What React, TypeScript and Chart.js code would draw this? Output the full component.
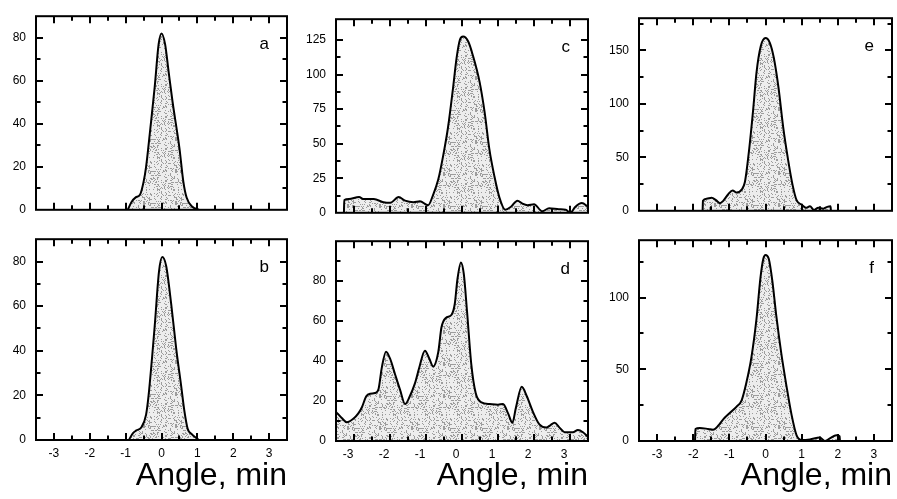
import React, { useEffect, useRef } from 'react';
import { Chart, registerables } from 'chart.js';
Chart.register(...registerables);

// ---- data (x = angle, min ; y = counts) ----
const aX = [-0.94, -0.84, -0.72, -0.6, -0.5, -0.43, -0.31, -0.19, -0.08, 0.0, 0.1, 0.2, 0.31, 0.5, 0.61, 0.7, 0.86, 1.05];
const aY = [0, 3.5, 5.8, 7, 13, 20, 38, 57, 77, 82, 77, 64, 50, 28.7, 13, 5.7, 1.4, 0];

const bX = [-0.91, -0.8, -0.7, -0.56, -0.43, -0.36, -0.19, -0.07, 0.02, 0.13, 0.27, 0.41, 0.55, 0.64, 0.73, 0.85, 0.96, 1.05];
const bY = [0, 3, 4.3, 5.7, 11.4, 20, 51, 75.5, 82, 78, 61, 41, 24, 12.8, 5, 2.5, 1, 0];

const cX = [-3.28, -3.27, -3.14, -2.86, -2.73, -2.45, -2.18, -1.99, -1.76, -1.58, -1.35, -1.17, -0.94, -0.8, -0.66, -0.52, -0.39, -0.25, -0.15, -0.06, 0.03, 0.17, 0.3, 0.49, 0.63, 0.76, 0.9, 1.04, 1.2, 1.36, 1.54, 1.68, 1.82, 2.0, 2.23, 2.42, 2.69, 2.88, 3.01, 3.15, 3.33, 3.5];
const cY = [0, 9.2, 9.9, 11.4, 9.9, 9.9, 7.7, 7.3, 11.4, 8.8, 7.7, 8.4, 5.5, 13.2, 24, 41.7, 61.5, 90, 112, 125, 127.4, 124, 114, 94.5, 72.5, 46, 26.4, 11, 2.2, 4.4, 8.8, 6.6, 5.5, 6.2, 1.1, 3.3, 2.6, 2.2, 0, 4.4, 7, 4.4];

const dX = [-3.5, -3.34, -3.2, -3.02, -2.88, -2.78, -2.66, -2.55, -2.42, -2.32, -2.23, -2.11, -2.0, -1.86, -1.72, -1.58, -1.45, -1.31, -1.19, -1.03, -0.91, -0.8, -0.66, -0.57, -0.45, -0.29, -0.2, -0.13, -0.03, 0.05, 0.14, 0.26, 0.38, 0.54, 0.77, 1.0, 1.14, 1.28, 1.4, 1.5, 1.66, 1.8, 1.97, 2.15, 2.34, 2.46, 2.57, 2.71, 2.85, 3.08, 3.22, 3.36, 3.5];
const dY = [14.6, 11.5, 9.4, 11.1, 13.8, 16.9, 22.4, 23.7, 24, 25.9, 36.5, 44.7, 41.3, 33.4, 25.6, 18.5, 22.4, 28.7, 36.5, 45.2, 41.3, 37.3, 44.4, 56.9, 61.6, 63.2, 68.7, 80.5, 89.4, 83.6, 64.8, 38.1, 24, 19.3, 18.5, 18.2, 18.5, 13.8, 9.1, 16.9, 27.1, 22.4, 14.6, 8.3, 6.7, 8, 9.1, 6.7, 4.4, 4.4, 5.5, 4.4, 2];

const eX = [-1.74, -1.73, -1.63, -1.49, -1.37, -1.26, -1.17, -1.03, -0.91, -0.8, -0.66, -0.57, -0.45, -0.34, -0.25, -0.13, 0.0, 0.12, 0.23, 0.36, 0.49, 0.63, 0.75, 0.86, 1.0, 1.12, 1.23, 1.34, 1.46, 1.6, 1.71, 1.8, 1.81];
const eY = [0, 9.3, 11.3, 12.2, 9.9, 7.1, 9.3, 15.6, 19, 17, 19.8, 26.9, 58, 95, 129, 154, 161.5, 157, 143, 115, 78, 46.7, 24, 9.9, 5.7, 2.8, 4.2, 0.8, 2.8, 2, 3.7, 4.2, 0];

const fX = [-1.95, -1.94, -1.82, -1.59, -1.45, -1.31, -1.17, -0.99, -0.8, -0.66, -0.53, -0.39, -0.25, -0.14, -0.06, 0.0, 0.09, 0.19, 0.3, 0.44, 0.58, 0.72, 0.86, 1.0, 1.23, 1.5, 1.64, 1.78, 1.96, 2.05, 2.06];
const fY = [0, 8.4, 9.1, 8.4, 7.8, 10.6, 15.1, 19.5, 24, 28.4, 40.6, 58.3, 85, 113.7, 127, 129.7, 127, 111.5, 87, 60.5, 38.4, 18.4, 4, 0.7, 1.1, 2.4, 0, 1.8, 4, 3.3, 0];

// ---- ticks ----
const xTicks = [-3, -2.5, -2, -1.5, -1, -0.5, 0, 0.5, 1, 1.5, 2, 2.5, 3];
const yTicks90 = [0, 10, 20, 30, 40, 50, 60, 70, 80];
const yTicks140c = [0, 12.5, 25, 37.5, 50, 62.5, 75, 87.5, 100, 112.5, 125];
const yTicks100 = [0, 10, 20, 30, 40, 50, 60, 70, 80, 90];
const yTicks180 = [0, 25, 50, 75, 100, 125, 150, 175];
const yTicks140f = [0, 25, 50, 75, 100, 125];

const xAxisTitle = 'Angle, min';
const FONT = '"Liberation Sans", Arial, Helvetica, sans-serif';

type PanelCfg = {
  letter: string; xs: number[]; ys: number[];
  L: number; T: number; R: number; B: number;
  yMax: number; yTicks: number[]; yLabelStep: number;
  bottom: boolean; xLabelOffset?: number;
};

const panels: PanelCfg[] = [
  { letter: 'a', xs: aX, ys: aY, L: 36, T: 5, R: 287, B: 217, yMax: 90, yTicks: yTicks90, yLabelStep: 20, bottom: false },
  { letter: 'b', xs: bX, ys: bY, L: 36, T: 228, R: 287, B: 440, yMax: 90, yTicks: yTicks90, yLabelStep: 20, bottom: true },
  { letter: 'c', xs: cX, ys: cY, L: 336, T: 8, R: 588, B: 220, yMax: 140, yTicks: yTicks140c, yLabelStep: 25, bottom: false },
  { letter: 'd', xs: dX, ys: dY, L: 336, T: 230, R: 588, B: 441, yMax: 100, yTicks: yTicks100, yLabelStep: 20, bottom: true, xLabelOffset: -6 },
  { letter: 'e', xs: eX, ys: eY, L: 639, T: 7, R: 892, B: 218, yMax: 180, yTicks: yTicks180, yLabelStep: 50, bottom: false },
  { letter: 'f', xs: fX, ys: fY, L: 639, T: 229, R: 892, B: 441, yMax: 140, yTicks: yTicks140f, yLabelStep: 50, bottom: true },
];

const PAD_L = 34, PAD_T = 6, PAD_R = 6;

function makeStipple(ctx: CanvasRenderingContext2D) {
  const n = 32;
  const c = document.createElement('canvas');
  c.width = n; c.height = n;
  const g = c.getContext('2d')!;
  g.fillStyle = '#ededed';
  g.fillRect(0, 0, n, n);
  g.fillStyle = '#9c9c9c';
  for (let i = 0; i < n; i++) {
    for (let j = 0; j < n; j++) {
      let h = (Math.imul(i + 1, 374761393) + Math.imul(j + 1, 668265263)) >>> 0;
      h = Math.imul(h ^ (h >>> 13), 1274126177) >>> 0;
      h = (h ^ (h >>> 16)) >>> 0;
      if (h % 100 < 22) g.fillRect(i, j, 1, 1);
    }
  }
  return ctx.createPattern(c, 'repeat');
}

function Panel({ p }: { p: PanelCfg }) {
  const ref = useRef<HTMLCanvasElement | null>(null);
  const padB = p.bottom ? 499 - p.B : 10;
  const W = p.R - p.L + PAD_L + PAD_R;
  const H = p.B - p.T + PAD_T + padB;

  useEffect(() => {
    const canvas = ref.current!;
    const ctx = canvas.getContext('2d')!;
    const pattern = makeStipple(ctx);
    const frame = {
      id: 'frame',
      afterDatasetsDraw(chart: any) {
        const { ctx, chartArea, scales } = chart;
        const { left, right, top, bottom } = chartArea;
        const x = scales.x, y = scales.y;
        ctx.save();
        ctx.strokeStyle = '#000';
        ctx.lineWidth = 2;
        ctx.beginPath();
        for (const v of xTicks) {
          const px = Math.round(x.getPixelForValue(v));
          const len = Number.isInteger(v) ? 7 : 4.5;
          ctx.moveTo(px, top); ctx.lineTo(px, top + len);
          ctx.moveTo(px, bottom); ctx.lineTo(px, bottom - len);
        }
        for (const v of p.yTicks) {
          if (v === 0) continue;
          const py = Math.round(y.getPixelForValue(v));
          const len = v % p.yLabelStep === 0 ? 7 : 4.5;
          ctx.moveTo(left, py); ctx.lineTo(left + len, py);
          ctx.moveTo(right, py); ctx.lineTo(right - len, py);
        }
        ctx.stroke();
        ctx.strokeRect(left, top, right - left, bottom - top);
        ctx.fillStyle = '#000';
        ctx.font = '17px ' + FONT;
        ctx.textAlign = 'right';
        ctx.textBaseline = 'alphabetic';
        ctx.fillText(p.letter, right - 18, top + 33);
        ctx.restore();
      },
    };

    const chart = new Chart(canvas, {
      type: 'line',
      data: {
        datasets: [{
          data: p.xs.map((xv, i) => ({ x: xv, y: p.ys[i] })),
          borderColor: '#000',
          borderWidth: 2,
          backgroundColor: pattern as any,
          fill: 'origin',
          pointRadius: 0,
          cubicInterpolationMode: 'monotone',
        }],
      },
      options: {
        responsive: false,
        animation: false,
        devicePixelRatio: 1,
        layout: { padding: { left: 0, top: PAD_T, right: PAD_R, bottom: 0 } },
        plugins: { legend: { display: false }, tooltip: { enabled: false } },
        events: [],
        scales: {
          x: {
            type: 'linear',
            min: -3.5, max: 3.5,
            grid: { display: false, drawTicks: false },
            border: { display: false },
            afterBuildTicks: (s: any) => { s.ticks = xTicks.map((v) => ({ value: v })); },
            afterFit: (s: any) => { s.height = padB; },
            ticks: {
              display: p.bottom,
              autoSkip: false,
              maxRotation: 0,
              padding: 6,
              labelOffset: p.xLabelOffset || 0,
              color: '#000',
              font: { family: FONT, size: 12 },
              callback: (v: any) => (Number.isInteger(Number(v)) ? String(v) : ''),
            },
            title: {
              display: p.bottom,
              text: xAxisTitle,
              align: 'end',
              color: '#000',
              font: { family: FONT, size: 32 },
              padding: { top: 0, bottom: 4 },
            },
          },
          y: {
            type: 'linear',
            min: 0, max: p.yMax,
            grid: { display: false, drawTicks: false },
            border: { display: false },
            afterBuildTicks: (s: any) => { s.ticks = p.yTicks.map((v) => ({ value: v })); },
            afterFit: (s: any) => { s.width = PAD_L; },
            ticks: {
              autoSkip: false,
              padding: 10,
              color: '#000',
              font: { family: FONT, size: 12 },
              callback: (v: any) => (Number(v) % p.yLabelStep === 0 ? String(v) : ''),
            },
          },
        },
      },
      plugins: [frame],
    } as any);
    return () => chart.destroy();
  }, []);

  return (
    <canvas
      ref={ref}
      width={W}
      height={H}
      style={{ position: 'absolute', left: p.L - PAD_L, top: p.T - PAD_T, width: W, height: H }}
    />
  );
}

export default function App() {
  return (
    <div style={{ position: 'fixed', left: 0, top: 0, width: 897, height: 499, background: '#fff', overflow: 'hidden' }}>
      {panels.map((p) => <Panel key={p.letter} p={p} />)}
    </div>
  );
}
